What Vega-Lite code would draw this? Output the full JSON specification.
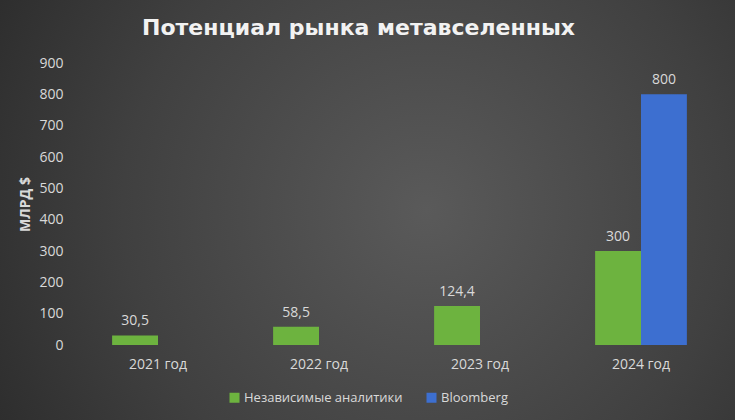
{
  "$schema": "https://vega.github.io/schema/vega-lite/v6.json",
  "width": 735,
  "height": 420,
  "autosize": {"type": "none"},
  "padding": 0,
  "background": "#2a2a2a",
  "title": {
    "text": "Потенциал рынка метавселенных",
    "font": "DejaVu Sans",
    "fontSize": 22,
    "fontWeight": "bold",
    "color": "#f2f2f2",
    "anchor": "middle",
    "dx": -9,
    "offset": -40
  },
  "data": {
    "values": [
      {"year": "2021 год", "series": "Независимые аналитики", "value": 30.5},
      {"year": "2022 год", "series": "Независимые аналитики", "value": 58.5},
      {"year": "2023 год", "series": "Независимые аналитики", "value": 124.4},
      {"year": "2024 год", "series": "Независимые аналитики", "value": 300},
      {"year": "2024 год", "series": "Bloomberg", "value": 800}
    ]
  },
  "encoding": {
    "x": {
      "field": "year",
      "type": "nominal",
      "sort": null,
      "scale": {"range": [77.5, 721.5], "paddingInner": 0.43, "paddingOuter": 0.215},
      "axis": {
        "title": null,
        "orient": "bottom",
        "offset": -75,
        "domain": false,
        "ticks": false,
        "labelAngle": 0,
        "labelPadding": 12,
        "labelFontSize": 14,
        "labelColor": "#d9d9d9"
      }
    },
    "xOffset": {
      "field": "series",
      "type": "nominal",
      "scale": {"domain": ["Независимые аналитики", "Bloomberg"]}
    },
    "y": {
      "field": "value",
      "type": "quantitative",
      "scale": {"domain": [0, 900], "range": [345, 63], "nice": false},
      "axis": {
        "title": "МЛРД $",
        "offset": -70,
        "domain": false,
        "ticks": false,
        "grid": false,
        "values": [0, 100, 200, 300, 400, 500, 600, 700, 800, 900],
        "labelPadding": 7,
        "labelFontSize": 14,
        "labelColor": "#d9d9d9",
        "titleColor": "#d9d9d9",
        "titleFontSize": 14,
        "titleFontWeight": "bold",
        "titlePadding": 6
      }
    }
  },
  "layer": [
    {
      "mark": {"type": "bar"},
      "encoding": {
        "color": {
          "field": "series",
          "type": "nominal",
          "scale": {
            "domain": ["Независимые аналитики", "Bloomberg"],
            "range": ["#6db33f", "#3d6fd0"]
          },
          "legend": {
            "orient": "none",
            "legendX": 228,
            "legendY": 391,
            "direction": "horizontal",
            "title": null,
            "symbolType": "square",
            "symbolSize": 100,
            "symbolStrokeWidth": 0,
            "labelColor": "#d9d9d9",
            "labelFontSize": 13,
            "labelOffset": 3,
            "labelLimit": 400,
            "columnPadding": 22
          }
        }
      }
    },
    {
      "mark": {"type": "text", "dy": -10, "baseline": "alphabetic", "fontSize": 14, "color": "#d9d9d9"},
      "encoding": {
        "text": {"field": "value", "type": "quantitative", "format": "~g"}
      }
    }
  ],
  "config": {
    "font": "Open Sans",
    "locale": {
      "number": {"decimal": ",", "thousands": " ", "grouping": [3], "currency": ["", " $"]}
    },
    "view": {
      "stroke": null,
      "fill": {
        "gradient": "radial",
        "x1": 0.58, "y1": 0.5, "r1": 0,
        "x2": 0.58, "y2": 0.5, "r2": 0.75,
        "stops": [
          {"offset": 0, "color": "#5a5a5a"},
          {"offset": 0.55, "color": "#404040"},
          {"offset": 1, "color": "#262626"}
        ]
      }
    }
  }
}
